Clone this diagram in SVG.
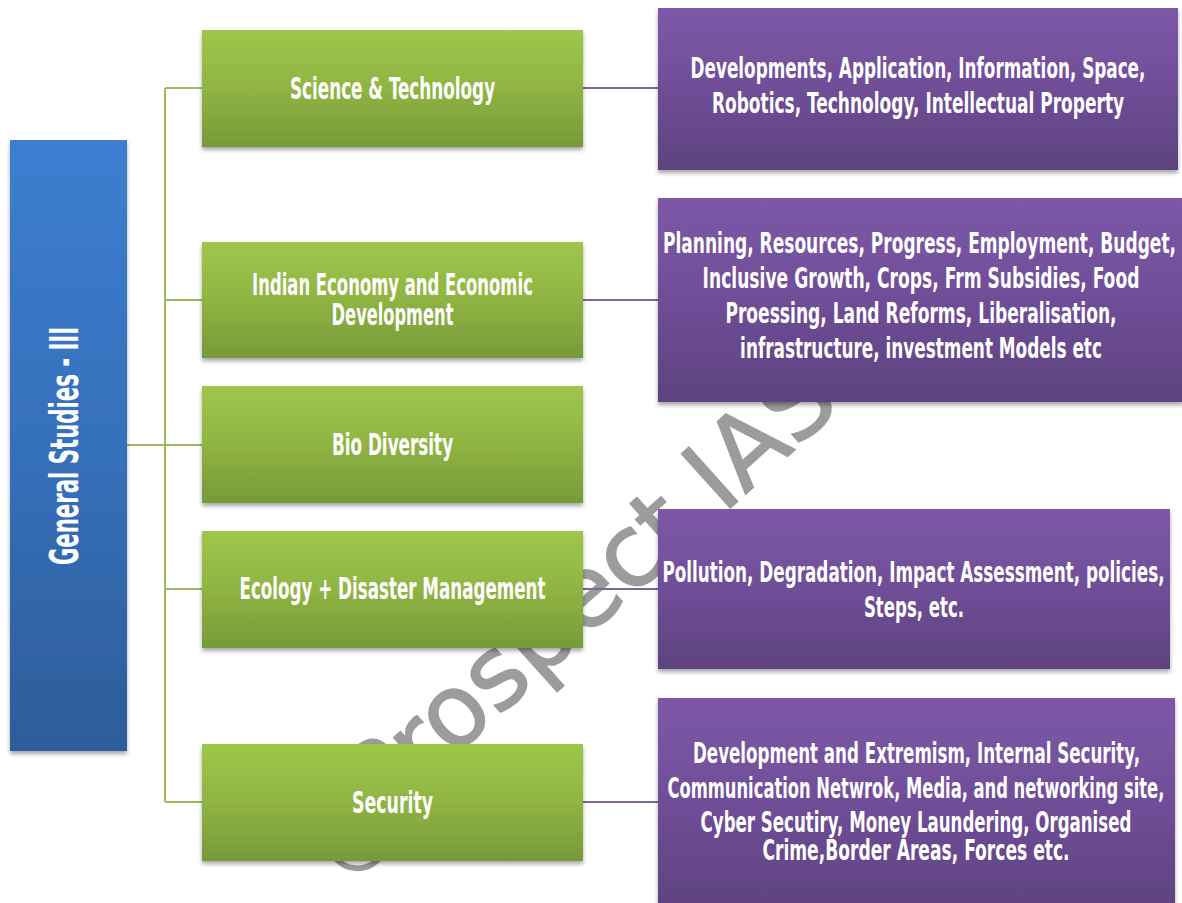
<svg xmlns="http://www.w3.org/2000/svg" width="1182" height="903" viewBox="0 0 1182 903">
<defs>
<linearGradient id="gBlue" x1="0" y1="0" x2="0" y2="1">
<stop offset="0" stop-color="#3c7ed0"/>
<stop offset="0.5" stop-color="#3670bb"/>
<stop offset="1" stop-color="#2d5d99"/>
</linearGradient>
<linearGradient id="gGreen" x1="0" y1="0" x2="0" y2="1">
<stop offset="0" stop-color="#9ec749"/>
<stop offset="0.5" stop-color="#8fb443"/>
<stop offset="1" stop-color="#779a39"/>
</linearGradient>
<linearGradient id="gPurple" x1="0" y1="0" x2="0" y2="1">
<stop offset="0" stop-color="#7c58a7"/>
<stop offset="0.5" stop-color="#6f4e97"/>
<stop offset="1" stop-color="#5e427f"/>
</linearGradient>
<filter id="shadow" x="-5%" y="-5%" width="110%" height="120%">
<feDropShadow dx="0" dy="3" stdDeviation="2" flood-color="#000" flood-opacity="0.35"/>
</filter>
</defs>
<style>
.blue{fill:url(#gBlue);filter:url(#shadow)}
.green{fill:url(#gGreen);filter:url(#shadow)}
.purple{fill:url(#gPurple);filter:url(#shadow)}
.lbl{font-family:"DejaVu Sans Condensed","DejaVu Sans","Liberation Sans",sans-serif;font-stretch:condensed;font-weight:bold;fill:#ffffff;text-anchor:middle}
.g{font-size:30px}
.p{font-size:29px}
.b{font-size:39px}
.cg{fill:none;stroke:#9bbb59;stroke-width:2}
.cp{fill:none;stroke:#8064a2;stroke-width:2}
.wm{font-family:"DejaVu Sans",sans-serif;font-size:100px;fill:#9c9c9c;stroke:#9c9c9c;stroke-width:1.5}
</style>
<rect width="1182" height="903" fill="#ffffff"/>
<g id="watermark" transform="translate(478,735) rotate(-42)">
<text class="wm"><tspan x="-202" y="28" font-size="85">©</tspan><tspan x="-132" y="0">Prospect IAS</tspan></text>
</g>
<g id="connectors">
<path class="cg" d="M127,445 H165 M165,88 V802 M165,88 H202 M165,300 H202 M165,445 H202 M165,589 H202 M165,802 H202"/>
<path class="cp" d="M583,88 H658 M583,300 H658 M583,589 H658 M583,802 H658"/>
</g>
<g id="general-studies">
<rect class="blue" x="10" y="140" width="117" height="611"/>
<text class="lbl b" transform="translate(78,446) rotate(-90) scale(0.6,1)" x="0" y="0" textLength="397" lengthAdjust="spacingAndGlyphs">General Studies - III</text>
</g>
<g id="science">
<rect class="green" x="202" y="30" width="381" height="117"/>
<text class="lbl g" transform="translate(392.5,99) scale(0.6,1)" textLength="342" lengthAdjust="spacingAndGlyphs">Science &amp; Technology</text>
</g>
<g id="economy">
<rect class="green" x="202" y="242" width="381" height="116"/>
<text class="lbl g" transform="translate(392.5,295) scale(0.6,1)" textLength="468" lengthAdjust="spacingAndGlyphs">Indian Economy and Economic</text>
<text class="lbl g" transform="translate(392.5,325) scale(0.6,1)" textLength="203" lengthAdjust="spacingAndGlyphs">Development</text>
</g>
<g id="biodiversity">
<rect class="green" x="202" y="386" width="381" height="117"/>
<text class="lbl g" transform="translate(392.5,455) scale(0.6,1)" textLength="202" lengthAdjust="spacingAndGlyphs">Bio Diversity</text>
</g>
<g id="ecology">
<rect class="green" x="202" y="531" width="381" height="117"/>
<text class="lbl g" transform="translate(392.5,599) scale(0.6,1)" textLength="510" lengthAdjust="spacingAndGlyphs">Ecology + Disaster Management</text>
</g>
<g id="security">
<rect class="green" x="202" y="744" width="381" height="117"/>
<text class="lbl g" transform="translate(392.5,813) scale(0.6,1)" textLength="135" lengthAdjust="spacingAndGlyphs">Security</text>
</g>
<g id="science-topics">
<rect class="purple" x="658" y="8" width="520" height="162"/>
<text class="lbl p" transform="translate(918,78) scale(0.6,1)" textLength="758" lengthAdjust="spacingAndGlyphs">Developments, Application, Information, Space,</text>
<text class="lbl p" transform="translate(918,113) scale(0.6,1)" textLength="687" lengthAdjust="spacingAndGlyphs">Robotics, Technology, Intellectual Property</text>
</g>
<g id="economy-topics">
<rect class="purple" x="658" y="198" width="526" height="204"/>
<text class="lbl p" transform="translate(919.5,253) scale(0.6,1)" textLength="855" lengthAdjust="spacingAndGlyphs">Planning, Resources, Progress, Employment, Budget,</text>
<text class="lbl p" transform="translate(921,288) scale(0.6,1)" textLength="728" lengthAdjust="spacingAndGlyphs">Inclusive Growth, Crops, Frm Subsidies, Food</text>
<text class="lbl p" transform="translate(921,323) scale(0.6,1)" textLength="652" lengthAdjust="spacingAndGlyphs">Proessing, Land Reforms, Liberalisation,</text>
<text class="lbl p" transform="translate(921,358) scale(0.6,1)" textLength="603" lengthAdjust="spacingAndGlyphs">infrastructure, investment Models etc</text>
</g>
<g id="ecology-topics">
<rect class="purple" x="658" y="509" width="512" height="160"/>
<text class="lbl p" transform="translate(913.5,582) scale(0.6,1)" textLength="837" lengthAdjust="spacingAndGlyphs">Pollution, Degradation, Impact Assessment, policies,</text>
<text class="lbl p" transform="translate(914,617) scale(0.6,1)" textLength="167" lengthAdjust="spacingAndGlyphs">Steps, etc.</text>
</g>
<g id="security-topics">
<rect class="purple" x="658" y="698" width="517" height="215"/>
<text class="lbl p" transform="translate(916.5,763) scale(0.6,1)" textLength="745" lengthAdjust="spacingAndGlyphs">Development and Extremism,  Internal Security,</text>
<text class="lbl p" transform="translate(916,798) scale(0.6,1)" textLength="828" lengthAdjust="spacingAndGlyphs">Communication Netwrok, Media, and networking site,</text>
<text class="lbl p" transform="translate(916,832) scale(0.6,1)" textLength="718" lengthAdjust="spacingAndGlyphs">Cyber Secutiry, Money Laundering, Organised</text>
<text class="lbl p" transform="translate(916,860) scale(0.6,1)" textLength="512" lengthAdjust="spacingAndGlyphs">Crime,Border Areas, Forces etc.</text>
</g>
</svg>
